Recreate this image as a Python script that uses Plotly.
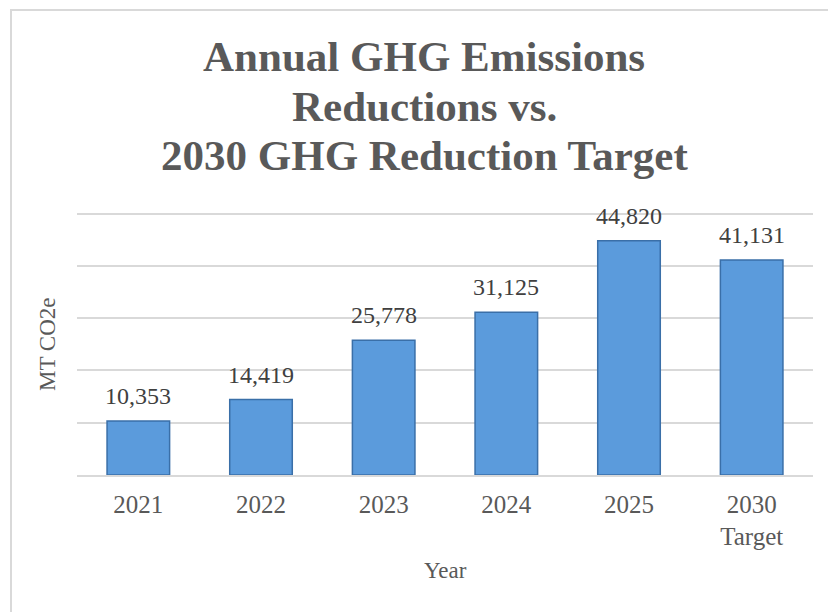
import plotly.graph_objects as go

categories = ["2021", "2022", "2023", "2024", "2025", "2030<br>Target"]
values = [10353, 14419, 25778, 31125, 44820, 41131]
labels = ["10,353", "14,419", "25,778", "31,125", "44,820", "41,131"]
title_lines = ["Annual GHG Emissions", "Reductions vs.", "2030 GHG Reduction Target"]

SERIF = "Liberation Serif, DejaVu Serif, serif"
GRAY = "#595959"

# plot area in window pixels (page has 8px body margin)
PL, PR, PT, PB = 77, 813, 211, 475
PW, PH = PR - PL, PB - PT


def px(X):
    return (X - PL) / PW


def py(Y):
    return (PB - Y) / PH


fig = go.Figure()
fig.add_trace(go.Bar(
    x=categories, y=values,
    marker=dict(color="#5B9BDC", line=dict(color="#3A6FA8", width=1.5)),
    hoverinfo="skip",
))

annotations = [
    dict(x=i, y=v, xref="x", yref="y", text=t, showarrow=False,
         yanchor="middle", yshift=25,
         font=dict(family=SERIF, size=24, color="#404040"))
    for i, (v, t) in enumerate(zip(values, labels))
]
for line, yc in zip(title_lines, [56, 106, 155]):
    annotations.append(dict(
        text="<b>" + line + "</b>", xref="paper", yref="paper", x=px(424), y=py(yc),
        xanchor="center", yanchor="middle", showarrow=False,
        font=dict(family=SERIF, size=43, color=GRAY)))
annotations += [
    dict(text="Year", xref="paper", yref="paper", x=0.5, y=py(570),
         xanchor="center", yanchor="middle", showarrow=False,
         font=dict(family=SERIF, size=23, color=GRAY)),
    dict(text="MT CO2e", xref="paper", yref="paper", x=px(47), y=py(344),
         xanchor="center", yanchor="middle", showarrow=False, textangle=-90,
         font=dict(family=SERIF, size=23, color=GRAY)),
]

fig.update_layout(
    width=836, height=612,
    margin=dict(l=PL - 8, r=836 - (PR - 8), t=PT - 8, b=612 - (PB - 8), autoexpand=False),
    paper_bgcolor="white", plot_bgcolor="white",
    bargap=0.49,
    showlegend=False,
    xaxis=dict(
        type="category", range=[-0.5, len(categories) - 0.5],
        tickfont=dict(family=SERIF, size=25, color=GRAY),
        showline=True, linecolor="#D9D9D9", linewidth=1.5,
        ticks="", showgrid=False, automargin=False, ticklabelstandoff=6,
    ),
    yaxis=dict(
        range=[0, 50500], tick0=0, dtick=10000,
        showticklabels=False, ticks="",
        showgrid=True, gridcolor="#D9D9D9", gridwidth=1.5,
        zeroline=False, automargin=False,
    ),
    annotations=annotations,
    shapes=[dict(
        type="rect", xref="paper", yref="paper",
        x0=px(11), x1=1.2, y0=-1.0, y1=py(10),
        line=dict(color="#D9D9D9", width=2), fillcolor="rgba(0,0,0,0)", layer="below",
    )],
)

fig.write_html("out.html")
